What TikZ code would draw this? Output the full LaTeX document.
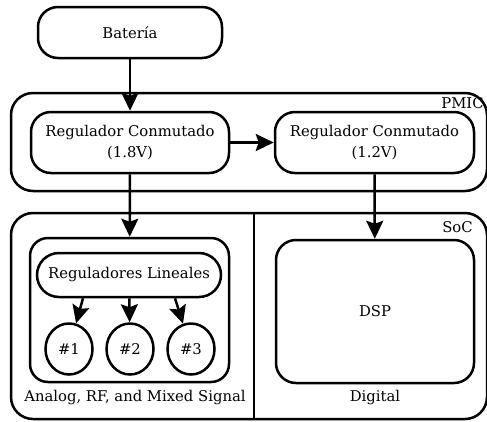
\documentclass[tikz,border=0pt]{standalone}
\usepackage{fontspec}
\setmainfont{DejaVu Serif}
\usetikzlibrary{positioning, arrows.meta, shapes.geometric}
\tikzset{
    blockbox/.style={draw, line width=2.5pt, rounded corners=20pt, align=center, inner sep=0pt, font=\fontsize{14.8}{21}\selectfont},
    groupbox/.style={blockbox, rounded corners=22pt},
    pillbox/.style={blockbox, rounded corners=22pt},
    regnode/.style={draw, ellipse, line width=2.5pt, inner sep=0pt, minimum width=47pt, minimum height=51pt, font=\fontsize{14.8}{21}\selectfont},
    tag/.style={inner sep=0pt, font=\fontsize{14.8}{21}\selectfont},
    flow/.style={-{Stealth[length=18pt, width=17pt, inset=3pt]}, line width=2.5pt}
}
\begin{document}
\begin{tikzpicture}[x=1pt, y=-1pt]
    \useasboundingbox (0,0) rectangle (487,421);

    % Containers
    \node[groupbox, minimum width=476pt, minimum height=98pt] (pmic) at (249,142) {};
    \node[groupbox, minimum width=476pt, minimum height=206pt] (soc) at (249,316) {};
    \node[tag] (pmiclbl) at (462.5,103) {PMIC};
    \node[tag] (soclbl) at (457.5,227) {SoC};
    \draw[line width=2.5pt] ([xshift=5pt]soc.north) -- ([xshift=5pt]soc.south);

    % Power path
    \node[blockbox, minimum width=184pt, minimum height=51pt] (bat) at (130,32.5) {Batería};
    \node[blockbox, minimum width=198pt, minimum height=61pt] (reg1) at (130,142.5) {Regulador Conmutado\\(1.8V)};
    \node[blockbox, minimum width=199pt, minimum height=61pt] (reg2) at (374.5,142.5) {Regulador Conmutado\\(1.2V)};

    % Analog side
    \node[groupbox, rounded corners=18pt, minimum width=199pt, minimum height=144pt] (analog) at (129.5,310) {};
    \node[pillbox, minimum width=184pt, minimum height=44pt] (lin) at (129,275) {Reguladores Lineales};
    \node[regnode] (c1) at (69,349) {\#1};
    \node[regnode] (c2) at (130,349) {\#2};
    \node[regnode] (c3) at (191,349) {\#3};
    \node[tag] (analoglbl) at (135,398) {Analog, RF, and Mixed Signal};

    % Digital side
    \node[blockbox, minimum width=198pt, minimum height=143pt] (dsp) at (375,311.5) {DSP};
    \node[tag] (digitallbl) at (375,398) {Digital};

    % Connections
    \draw[flow] (bat) -- (reg1);
    \draw[flow] (reg1) -- (reg2);
    \draw[flow] (reg1) -- (analog);
    \draw[flow] (reg2) -- (dsp);
    \draw[flow] ([xshift=-46pt]lin.south) -- (c1);
    \draw[flow] (lin) -- (c2);
    \draw[flow] ([xshift=46pt]lin.south) -- (c3);
\end{tikzpicture}
\end{document}
